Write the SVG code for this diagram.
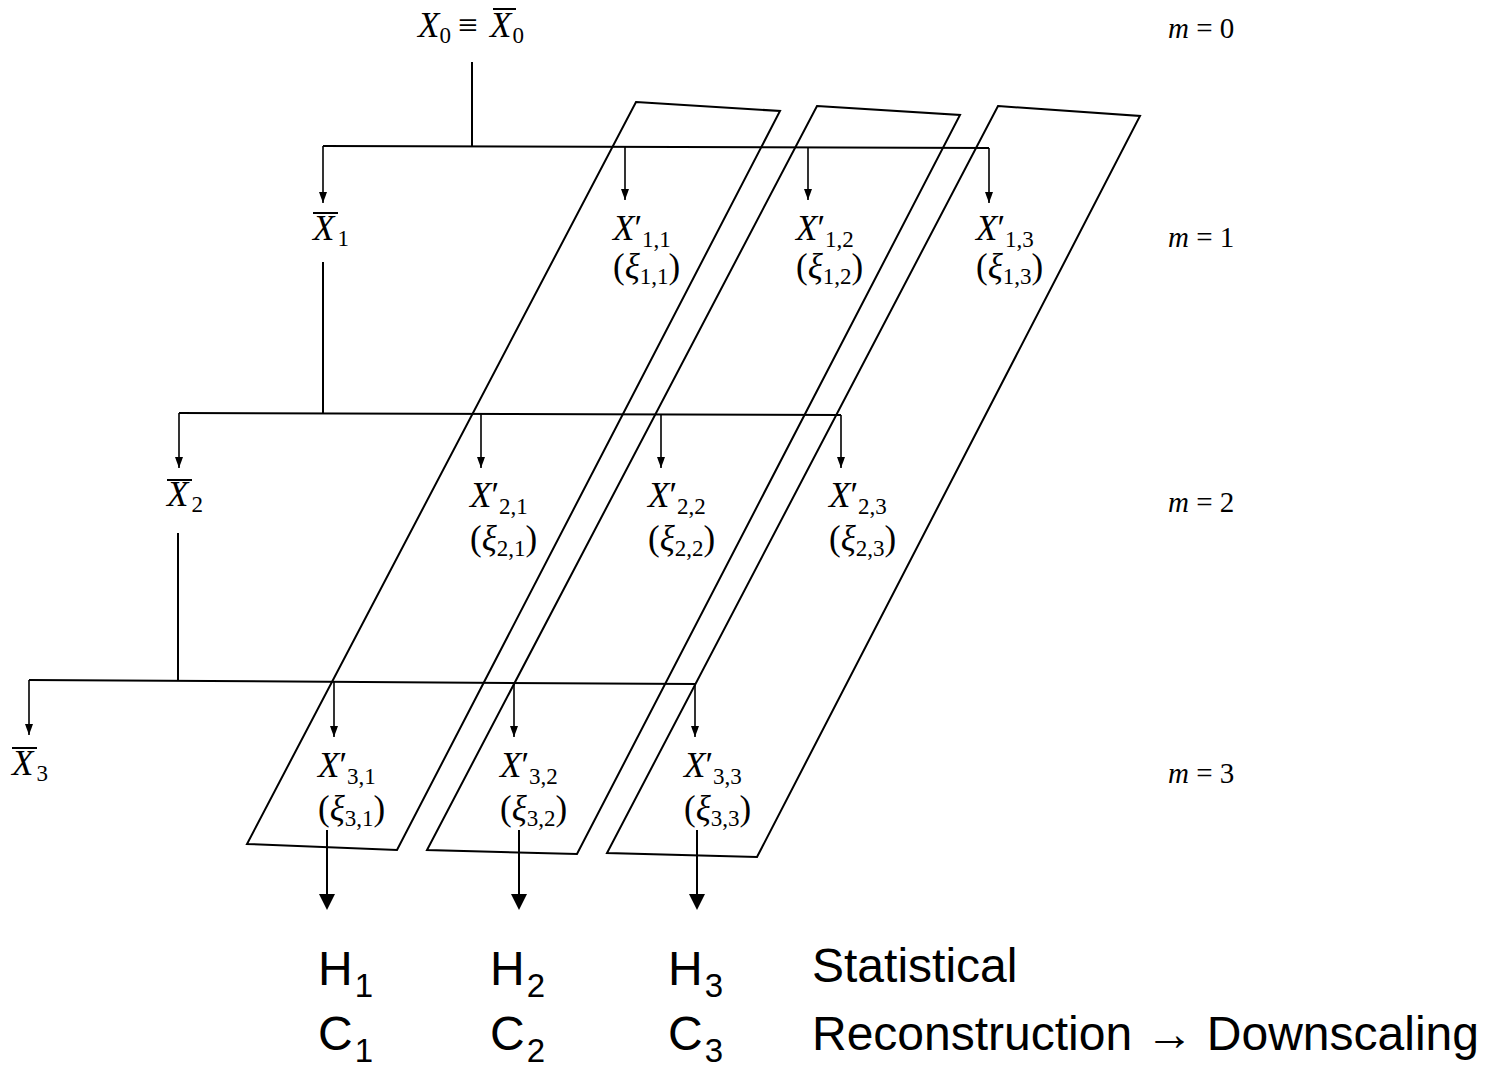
<svg xmlns="http://www.w3.org/2000/svg" width="1485" height="1070" viewBox="0 0 1485 1070">
<style>
.ln{stroke:#000;stroke-width:2;fill:none}
.pg{stroke:#000;stroke-width:2;fill:none;stroke-linejoin:miter}
.ar{stroke:#000;stroke-width:1.6;fill:none}
.ol{stroke:#000;stroke-width:2}
.mt{font-family:"Liberation Serif","DejaVu Serif",serif;font-size:35px;fill:#000}
.it{font-style:italic}
.sb{font-size:23px}
.lv{font-family:"Liberation Serif","DejaVu Serif",serif;font-size:29px;fill:#000}
.sn{font-family:"Liberation Sans",Arial,sans-serif;font-size:48px;fill:#000}
.ss{font-size:33px}
</style>
<rect width="1485" height="1070" fill="#fff"/>

<g id="connectors">
<line class="ln" x1="472" y1="62" x2="472" y2="146"/>
<line class="ln" x1="323" y1="146" x2="989" y2="148"/>
<path class="ar" d="M323,146 V203"/><path d="M319,192 L323,203 L327,192 Z"/>
<path class="ar" d="M625,146 V200"/><path d="M621,189 L625,200 L629,189 Z"/>
<path class="ar" d="M808,147 V200"/><path d="M804,189 L808,200 L812,189 Z"/>
<path class="ar" d="M989,148 V203"/><path d="M985,192 L989,203 L993,192 Z"/>
<line class="ln" x1="323" y1="262" x2="323" y2="413"/>
<line class="ln" x1="179" y1="413" x2="841" y2="415"/>
<path class="ar" d="M179,413 V468"/><path d="M175,457 L179,468 L183,457 Z"/>
<path class="ar" d="M481,414 V468"/><path d="M477,457 L481,468 L485,457 Z"/>
<path class="ar" d="M661,414 V468"/><path d="M657,457 L661,468 L665,457 Z"/>
<path class="ar" d="M841,415 V468"/><path d="M837,457 L841,468 L845,457 Z"/>
<line class="ln" x1="178" y1="533" x2="178" y2="680"/>
<line class="ln" x1="29" y1="680" x2="695" y2="684"/>
<path class="ar" d="M29,680 V735"/><path d="M25,724 L29,735 L33,724 Z"/>
<path class="ar" d="M334,682 V737"/><path d="M330,726 L334,737 L338,726 Z"/>
<path class="ar" d="M514,683 V737"/><path d="M510,726 L514,737 L518,726 Z"/>
<path class="ar" d="M695,684 V737"/><path d="M691,726 L695,737 L699,726 Z"/>
<line class="ln" x1="327" y1="830" x2="327" y2="896"/><path d="M319,894 L335,894 L327,910 Z"/>
<line class="ln" x1="519" y1="830" x2="519" y2="896"/><path d="M511,894 L527,894 L519,910 Z"/>
<line class="ln" x1="697" y1="830" x2="697" y2="896"/><path d="M689,894 L705,894 L697,910 Z"/>
</g>

<g id="groups">
<polygon id="group1" class="pg" points="636,102 780,111 397,850 247,844"/>
<polygon id="group2" class="pg" points="817,106 960,115 577,854 427,850"/>
<polygon id="group3" class="pg" points="998,106 1140,116 757,857 607,853"/>
</g>

<g id="node-X0">
<text class="mt" x="418" y="37"><tspan class="it">X</tspan><tspan class="sb" dy="6">0</tspan><tspan x="458" y="37">≡</tspan><tspan class="it" x="490" y="37">X</tspan><tspan class="sb" dx="1" dy="6">0</tspan></text>
<line class="ol" x1="493" y1="9" x2="516" y2="9"/>
</g>

<g id="node-Xbar1">
<text class="mt" x="313" y="240"><tspan class="it">X</tspan><tspan class="sb" dx="3" dy="6">1</tspan></text>
<line class="ol" x1="313" y1="213" x2="338" y2="213"/>
</g>
<g id="node-X11">
<text class="mt" x="613" y="240"><tspan class="it">X</tspan>′<tspan class="sb" dy="7">1,1</tspan></text>
<text class="mt" x="613" y="278">(<tspan class="it">ξ</tspan><tspan class="sb" dy="6">1,1</tspan><tspan dy="-6">)</tspan></text>
</g>
<g id="node-X12">
<text class="mt" x="796" y="240"><tspan class="it">X</tspan>′<tspan class="sb" dy="7">1,2</tspan></text>
<text class="mt" x="796" y="278">(<tspan class="it">ξ</tspan><tspan class="sb" dy="6">1,2</tspan><tspan dy="-6">)</tspan></text>
</g>
<g id="node-X13">
<text class="mt" x="976" y="240"><tspan class="it">X</tspan>′<tspan class="sb" dy="7">1,3</tspan></text>
<text class="mt" x="976" y="278">(<tspan class="it">ξ</tspan><tspan class="sb" dy="6">1,3</tspan><tspan dy="-6">)</tspan></text>
</g>

<g id="node-Xbar2">
<text class="mt" x="167" y="506"><tspan class="it">X</tspan><tspan class="sb" dx="3" dy="6">2</tspan></text>
<line class="ol" x1="167" y1="480" x2="192" y2="480"/>
</g>
<g id="node-X21">
<text class="mt" x="470" y="507"><tspan class="it">X</tspan>′<tspan class="sb" dy="7">2,1</tspan></text>
<text class="mt" x="470" y="550">(<tspan class="it">ξ</tspan><tspan class="sb" dy="6">2,1</tspan><tspan dy="-6">)</tspan></text>
</g>
<g id="node-X22">
<text class="mt" x="648" y="507"><tspan class="it">X</tspan>′<tspan class="sb" dy="7">2,2</tspan></text>
<text class="mt" x="648" y="550">(<tspan class="it">ξ</tspan><tspan class="sb" dy="6">2,2</tspan><tspan dy="-6">)</tspan></text>
</g>
<g id="node-X23">
<text class="mt" x="829" y="507"><tspan class="it">X</tspan>′<tspan class="sb" dy="7">2,3</tspan></text>
<text class="mt" x="829" y="550">(<tspan class="it">ξ</tspan><tspan class="sb" dy="6">2,3</tspan><tspan dy="-6">)</tspan></text>
</g>

<g id="node-Xbar3">
<text class="mt" x="12" y="775"><tspan class="it">X</tspan><tspan class="sb" dx="3" dy="6">3</tspan></text>
<line class="ol" x1="12" y1="748" x2="37" y2="748"/>
</g>
<g id="node-X31">
<text class="mt" x="318" y="777"><tspan class="it">X</tspan>′<tspan class="sb" dy="7">3,1</tspan></text>
<text class="mt" x="318" y="820">(<tspan class="it">ξ</tspan><tspan class="sb" dy="6">3,1</tspan><tspan dy="-6">)</tspan></text>
</g>
<g id="node-X32">
<text class="mt" x="500" y="777"><tspan class="it">X</tspan>′<tspan class="sb" dy="7">3,2</tspan></text>
<text class="mt" x="500" y="820">(<tspan class="it">ξ</tspan><tspan class="sb" dy="6">3,2</tspan><tspan dy="-6">)</tspan></text>
</g>
<g id="node-X33">
<text class="mt" x="684" y="777"><tspan class="it">X</tspan>′<tspan class="sb" dy="7">3,3</tspan></text>
<text class="mt" x="684" y="820">(<tspan class="it">ξ</tspan><tspan class="sb" dy="6">3,3</tspan><tspan dy="-6">)</tspan></text>
</g>

<g id="levels">
<text class="lv" x="1168" y="38"><tspan class="it">m</tspan> = 0</text>
<text class="lv" x="1168" y="247"><tspan class="it">m</tspan> = 1</text>
<text class="lv" x="1168" y="512"><tspan class="it">m</tspan> = 2</text>
<text class="lv" x="1168" y="783"><tspan class="it">m</tspan> = 3</text>
</g>

<g id="node-H1C1">
<text class="sn" x="318" y="985">H<tspan class="ss" dx="2" dy="12">1</tspan></text>
<text class="sn" x="318" y="1050">C<tspan class="ss" dx="2" dy="12">1</tspan></text>
</g>
<g id="node-H2C2">
<text class="sn" x="490" y="985">H<tspan class="ss" dx="2" dy="12">2</tspan></text>
<text class="sn" x="490" y="1050">C<tspan class="ss" dx="2" dy="12">2</tspan></text>
</g>
<g id="node-H3C3">
<text class="sn" x="668" y="985">H<tspan class="ss" dx="2" dy="12">3</tspan></text>
<text class="sn" x="668" y="1050">C<tspan class="ss" dx="2" dy="12">3</tspan></text>
</g>
<g id="caption">
<text class="sn" x="812" y="982">Statistical</text>
<text class="sn" x="812" y="1050">Reconstruction → Downscaling</text>
</g>
</svg>
